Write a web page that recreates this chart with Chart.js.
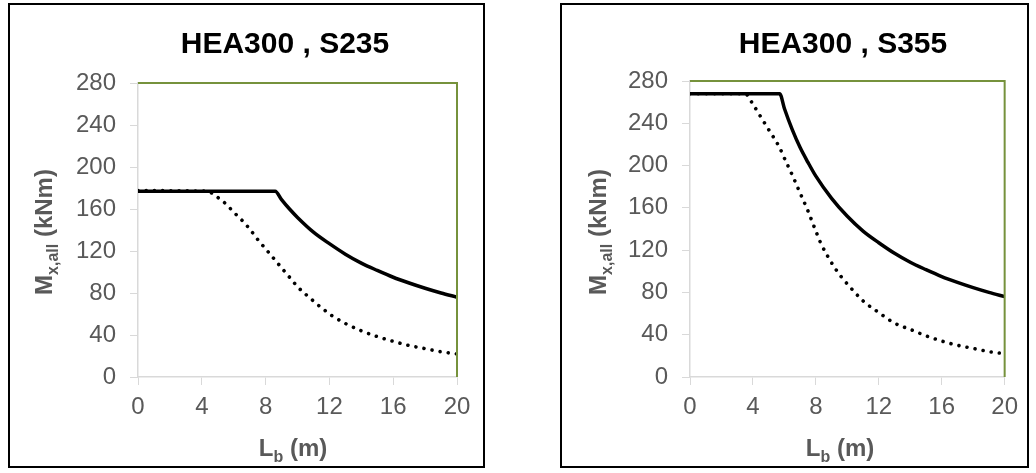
<!DOCTYPE html>
<html>
<head>
<meta charset="utf-8">
<script src="https://cdn.jsdelivr.net/npm/chart.js@4.4.1/dist/chart.umd.min.js"></script>
<style>
    html, body { margin: 0; padding: 0; background: #fff; }
    body { width: 1036px; height: 473px; position: relative; overflow: hidden; }
    .box { position: absolute; border: 2px solid #000; box-sizing: border-box; }
    .wrap { position: absolute; }
</style>
</head>
<body>
<div class="box" style="left:8px; top:3px; width:477px; height:465px;"></div>
<div class="box" style="left:560px; top:3px; width:469px; height:465px;"></div>
<div class="wrap" style="left:10px; top:5px; width:472px; height:460px;"><canvas id="chartS235"></canvas></div>
<div class="wrap" style="left:562px; top:5px; width:464px; height:460px;"><canvas id="chartS355"></canvas></div>

<script>
// Data: L_b (m) -> M_x,all (kNm)
const xTicks = [0, 4, 8, 12, 16, 20];
const yTicks = [0, 40, 80, 120, 160, 200, 240, 280];

// HEA300, S235
const s235SolidL = [0, 8.6, 9, 9.5, 10, 11, 12, 13, 14, 15, 16, 17, 18, 19, 20];
const s235SolidM = [177, 177, 169, 160, 152, 138, 127, 117, 108.5, 101.5, 95, 89.5, 84.5, 80, 76];
const s235DotL = [0, 4.3, 5, 5.5, 6, 6.6, 7, 7.5, 8, 8.5, 9, 9.5, 10, 10.8, 11.5, 12.2, 13, 14, 15, 16, 17, 18, 19, 20];
const s235DotM = [177.5, 177, 171, 165, 157, 148, 141, 131, 122, 113, 104, 95, 86, 75, 66, 58, 51, 44, 38.5, 34, 30, 27, 24, 22];

// HEA300, S355
const s355SolidL = [0, 5.7, 6, 6.5, 7, 7.5, 8, 9, 10, 11, 12, 13, 14, 15, 16, 17, 18, 19, 20];
const s355SolidM = [268, 268, 254, 234, 217, 203, 190, 169, 152, 138, 127, 117, 108.5, 101.5, 95, 89.5, 84.5, 80, 76];
const s355DotL = [0, 3.5, 4, 4.5, 5, 5.66, 6, 6.5, 7, 7.5, 8, 8.3, 9, 9.6, 10, 11, 12, 13, 14, 15, 16, 17, 18, 19, 20];
const s355DotM = [268, 268, 258, 246, 234, 218, 207, 191, 174, 157, 138, 127, 108, 95, 88, 72, 61, 51, 45, 39, 34, 30, 27, 24, 22];

const AXIS_GREY = '#d9d9d9';
const TEXT_GREY = '#595959';
const OLIVE = '#76923c';
const FONT = "'Liberation Sans', Arial, sans-serif";

const toPoints = (xs, ys) => xs.map((x, i) => ({ x: x, y: ys[i] }));

// draws title, axis titles (with subscripts) and the olive top/right frame
const decorPlugin = {
    id: 'decor',
    afterDraw(chart, args, opts) {
        const ctx = chart.ctx;
        const area = chart.chartArea;
        ctx.save();

        // olive frame on top and right
        ctx.strokeStyle = OLIVE;
        ctx.lineWidth = 2;
        ctx.beginPath();
        ctx.moveTo(area.left, area.top);
        ctx.lineTo(area.right, area.top);
        ctx.lineTo(area.right, area.bottom);
        ctx.stroke();

        // chart title
        ctx.fillStyle = '#000';
        ctx.font = `bold 30px ${FONT}`;
        ctx.textAlign = 'center';
        ctx.textBaseline = 'middle';
        ctx.fillText(opts.title, opts.titleX, opts.titleY);

        // x title: L_b (m)
        ctx.fillStyle = TEXT_GREY;
        ctx.textAlign = 'left';
        ctx.textBaseline = 'alphabetic';
        const big = `bold 24px ${FONT}`;
        const small = `bold 16px ${FONT}`;
        ctx.font = big; const wL = ctx.measureText('L').width;
        ctx.font = small; const wb = ctx.measureText('b').width;
        ctx.font = big; const wm = ctx.measureText(' (m)').width;
        let x0 = opts.xTitleX - (wL + wb + wm) / 2;
        const by = opts.xTitleY;
        ctx.font = big; ctx.fillText('L', x0, by);
        ctx.font = small; ctx.fillText('b', x0 + wL, by + 6);
        ctx.font = big; ctx.fillText(' (m)', x0 + wL + wb, by);

        // y title: M_x,all (kNm), rotated
        ctx.translate(opts.yTitleX, opts.yTitleY);
        ctx.rotate(-Math.PI / 2);
        ctx.font = big; const wM = ctx.measureText('M').width;
        ctx.font = small; const ws = ctx.measureText('x,all').width;
        ctx.font = big; const wk = ctx.measureText(' (kNm)').width;
        x0 = -(wM + ws + wk) / 2;
        const yb = 9;
        ctx.font = big; ctx.fillText('M', x0, yb);
        ctx.font = small; ctx.fillText('x,all', x0 + wM, yb + 6);
        ctx.font = big; ctx.fillText(' (kNm)', x0 + wM + ws, yb);

        ctx.restore();
    }
};

function makeChart(id, solidL, solidM, dotL, dotM, decor, padRight, padTop) {
    const ctx = document.getElementById(id).getContext('2d');
    return new Chart(ctx, {
        type: 'line',
        data: {
            datasets: [
                {
                    label: 'solid',
                    data: toPoints(solidL, solidM),
                    borderColor: '#000',
                    borderWidth: 3.5,
                    pointRadius: 0,
                    cubicInterpolationMode: 'monotone',
                    fill: false
                },
                {
                    label: 'dotted',
                    data: toPoints(dotL, dotM),
                    borderColor: '#000',
                    borderWidth: 3.6,
                    borderDash: [0.01, 8.2],
                    borderCapStyle: 'round',
                    pointRadius: 0,
                    cubicInterpolationMode: 'monotone',
                    fill: false
                }
            ]
        },
        options: {
            responsive: true,
            maintainAspectRatio: false,
            animation: false,
            layout: { padding: { left: 0, right: padRight, top: padTop, bottom: 0 } },
            plugins: {
                legend: { display: false },
                tooltip: { enabled: false },
                decor: decor
            },
            scales: {
                x: {
                    type: 'linear',
                    min: 0,
                    max: 20,
                    afterBuildTicks: (scale) => { scale.ticks = xTicks.map(v => ({ value: v })); },
                    afterFit: (scale) => { scale.height = 88; },
                    grid: { drawOnChartArea: false, drawTicks: true, tickLength: 8, color: AXIS_GREY },
                    border: { display: true, color: AXIS_GREY, width: 1.5 },
                    ticks: { color: TEXT_GREY, font: { family: FONT, size: 24 }, padding: 8, maxRotation: 0 }
                },
                y: {
                    type: 'linear',
                    min: 0,
                    max: 280,
                    afterBuildTicks: (scale) => { scale.ticks = yTicks.map(v => ({ value: v })); },
                    afterFit: (scale) => { scale.width = 128; },
                    grid: { drawOnChartArea: false, drawTicks: true, tickLength: 8, color: AXIS_GREY },
                    border: { display: true, color: AXIS_GREY, width: 1.5 },
                    ticks: { color: TEXT_GREY, font: { family: FONT, size: 24 }, padding: 14 }
                }
            }
        },
        plugins: [decorPlugin]
    });
}

makeChart('chartS235', s235SolidL, s235SolidM, s235DotL, s235DotM,
    { title: 'HEA300 , S235', titleX: 275, titleY: 40, xTitleX: 283, xTitleY: 451, yTitleX: 33, yTitleY: 227 },
    25, 78);

makeChart('chartS355', s355SolidL, s355SolidM, s355DotL, s355DotM,
    { title: 'HEA300 , S355', titleX: 281, titleY: 40, xTitleX: 278, xTitleY: 451, yTitleX: 35, yTitleY: 227 },
    18, 76);
</script>
</body>
</html>
